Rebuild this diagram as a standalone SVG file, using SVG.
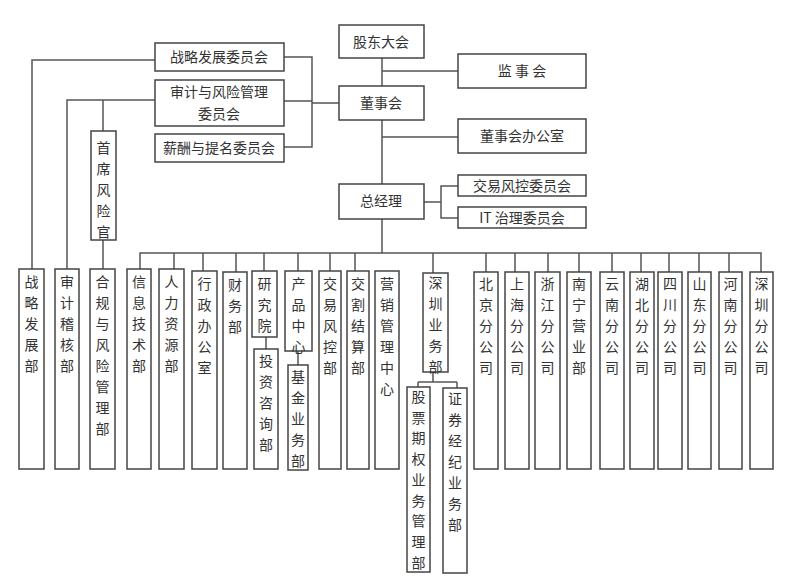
<svg xmlns="http://www.w3.org/2000/svg" width="793" height="585" viewBox="0 0 793 585">
<style>
rect{fill:#fff;stroke:#444;stroke-width:1.5}
.c path{fill:none;stroke:#555;stroke-width:1.5}
text{font-family:"Noto Sans CJK SC","Noto Sans CJK JP",sans-serif;font-size:14px;fill:#333}
.h{text-anchor:middle}
.v{text-anchor:middle}
</style>
<rect width="793" height="585" style="stroke:none"/>
<g class="c">
<path d="M382 58V253M382 71H458M382 137H458M424 202H441M458 186H441V218H458"/>
<path d="M284 57H312V147H284M284 101H312M312 103H339"/>
<path d="M155 60H32V269M155 100H67V269M103 100V131M103 240V269"/>
<path d="M140 269V253H761V272M174 253V269M203 253V271M236 253V272M264 253V271M298 253V271M330 253V271M355 253V271M433 253V273M486 253V272M515 253V272M548 253V272M579 253V272M612 253V272M641 253V272M669 253V272M699 253V272M729 253V272"/>
<path d="M266 337V349M298 351V365M433 372V382M418 382H457M418 382V387M457 382V388"/>
</g>
<g id="gddh"><rect x="339" y="25" width="85" height="33"/><text class="h" x="381" y="47">股东大会</text></g>
<g id="jsh"><rect x="458" y="54" width="128" height="34"/><text class="h" x="522" y="76">监 事 会</text></g>
<g id="dsh"><rect x="339" y="86" width="85" height="34"/><text class="h" x="381" y="108">董事会</text></g>
<g id="dshbgs"><rect x="458" y="119" width="128" height="34"/><text class="h" x="522" y="141">董事会办公室</text></g>
<g id="zjl"><rect x="339" y="184" width="85" height="35"/><text class="h" x="381" y="206">总经理</text></g>
<g id="jyfk"><rect x="458" y="175" width="128" height="21"/><text class="h" x="522" y="191">交易风控委员会</text></g>
<g id="it"><rect x="458" y="207" width="128" height="21"/><text class="h" x="522" y="223">IT 治理委员会</text></g>
<g id="zlfzwyh"><rect x="155" y="43" width="129" height="28"/><text class="h" x="219" y="62">战略发展委员会</text></g>
<g id="sjwyh"><rect x="155" y="80" width="129" height="46"/><text class="h" x="219" y="97">审计与风险管理</text><text class="h" x="219" y="119">委员会</text></g>
<g id="xcwyh"><rect x="155" y="134" width="129" height="28"/><text class="h" x="219" y="153">薪酬与提名委员会</text></g>
<g id="sxfxg"><rect x="91" y="131" width="25" height="109"/><text class="v" x="103.5" y="153"><tspan x="103.5">首</tspan><tspan x="103.5" dy="21">席</tspan><tspan x="103.5" dy="21">风</tspan><tspan x="103.5" dy="21">险</tspan><tspan x="103.5" dy="21">官</tspan></text></g>
<g id="d1"><rect x="19" y="269" width="25" height="200"/><text class="v" x="31.5" y="287"><tspan x="31.5">战</tspan><tspan x="31.5" dy="21">略</tspan><tspan x="31.5" dy="21">发</tspan><tspan x="31.5" dy="21">展</tspan><tspan x="31.5" dy="21">部</tspan></text></g>
<g id="d2"><rect x="55" y="269" width="24" height="200"/><text class="v" x="67" y="287"><tspan x="67">审</tspan><tspan x="67" dy="21">计</tspan><tspan x="67" dy="21">稽</tspan><tspan x="67" dy="21">核</tspan><tspan x="67" dy="21">部</tspan></text></g>
<g id="d3"><rect x="90" y="269" width="25" height="200"/><text class="v" x="102.5" y="287"><tspan x="102.5">合</tspan><tspan x="102.5" dy="21">规</tspan><tspan x="102.5" dy="21">与</tspan><tspan x="102.5" dy="21">风</tspan><tspan x="102.5" dy="21">险</tspan><tspan x="102.5" dy="21">管</tspan><tspan x="102.5" dy="21">理</tspan><tspan x="102.5" dy="21">部</tspan></text></g>
<g id="d4"><rect x="127" y="269" width="24" height="200"/><text class="v" x="139" y="287"><tspan x="139">信</tspan><tspan x="139" dy="21">息</tspan><tspan x="139" dy="21">技</tspan><tspan x="139" dy="21">术</tspan><tspan x="139" dy="21">部</tspan></text></g>
<g id="d5"><rect x="159" y="269" width="25" height="200"/><text class="v" x="171.5" y="287"><tspan x="171.5">人</tspan><tspan x="171.5" dy="21">力</tspan><tspan x="171.5" dy="21">资</tspan><tspan x="171.5" dy="21">源</tspan><tspan x="171.5" dy="21">部</tspan></text></g>
<g id="d6"><rect x="192" y="271" width="25" height="198"/><text class="v" x="204.5" y="289"><tspan x="204.5">行</tspan><tspan x="204.5" dy="21">政</tspan><tspan x="204.5" dy="21">办</tspan><tspan x="204.5" dy="21">公</tspan><tspan x="204.5" dy="21">室</tspan></text></g>
<g id="d7"><rect x="223" y="272" width="24" height="197"/><text class="v" x="235" y="290"><tspan x="235">财</tspan><tspan x="235" dy="21">务</tspan><tspan x="235" dy="21">部</tspan></text></g>
<g id="d8"><rect x="252" y="271" width="25" height="66"/><text class="v" x="264.5" y="289"><tspan x="264.5">研</tspan><tspan x="264.5" dy="21">究</tspan><tspan x="264.5" dy="21">院</tspan></text></g>
<g id="d8a"><rect x="254" y="349" width="24" height="120"/><text class="v" x="266" y="366"><tspan x="266">投</tspan><tspan x="266" dy="21">资</tspan><tspan x="266" dy="21">咨</tspan><tspan x="266" dy="21">询</tspan><tspan x="266" dy="21">部</tspan></text></g>
<g id="d9"><rect x="285" y="271" width="27" height="80"/><text class="v" x="298.5" y="289"><tspan x="298.5">产</tspan><tspan x="298.5" dy="21">品</tspan><tspan x="298.5" dy="21">中</tspan><tspan x="298.5" dy="21">心</tspan></text></g>
<g id="d9a"><rect x="288" y="365" width="20" height="105"/><text class="v" x="298" y="382"><tspan x="298">基</tspan><tspan x="298" dy="21">金</tspan><tspan x="298" dy="21">业</tspan><tspan x="298" dy="21">务</tspan><tspan x="298" dy="21">部</tspan></text></g>
<g id="d10"><rect x="319" y="271" width="22" height="198"/><text class="v" x="330" y="289"><tspan x="330">交</tspan><tspan x="330" dy="21">易</tspan><tspan x="330" dy="21">风</tspan><tspan x="330" dy="21">控</tspan><tspan x="330" dy="21">部</tspan></text></g>
<g id="d11"><rect x="347" y="271" width="22" height="198"/><text class="v" x="358" y="289"><tspan x="358">交</tspan><tspan x="358" dy="21">割</tspan><tspan x="358" dy="21">结</tspan><tspan x="358" dy="21">算</tspan><tspan x="358" dy="21">部</tspan></text></g>
<g id="d12"><rect x="375" y="271" width="24" height="198"/><text class="v" x="387" y="289"><tspan x="387">营</tspan><tspan x="387" dy="21">销</tspan><tspan x="387" dy="21">管</tspan><tspan x="387" dy="21">理</tspan><tspan x="387" dy="21">中</tspan><tspan x="387" dy="21">心</tspan></text></g>
<g id="d13"><rect x="423" y="273" width="25" height="99"/><text class="v" x="435.5" y="288"><tspan x="435.5">深</tspan><tspan x="435.5" dy="21">圳</tspan><tspan x="435.5" dy="21">业</tspan><tspan x="435.5" dy="21">务</tspan><tspan x="435.5" dy="21">部</tspan></text></g>
<g id="d13a"><rect x="407" y="387" width="23" height="185"/><text class="v" x="418.5" y="402"><tspan x="418.5">股</tspan><tspan x="418.5" dy="20.7">票</tspan><tspan x="418.5" dy="20.7">期</tspan><tspan x="418.5" dy="20.7">权</tspan><tspan x="418.5" dy="20.7">业</tspan><tspan x="418.5" dy="20.7">务</tspan><tspan x="418.5" dy="20.7">管</tspan><tspan x="418.5" dy="20.7">理</tspan><tspan x="418.5" dy="20.7">部</tspan></text></g>
<g id="d13b"><rect x="443" y="388" width="24" height="185"/><text class="v" x="455" y="404"><tspan x="455">证</tspan><tspan x="455" dy="21">券</tspan><tspan x="455" dy="21">经</tspan><tspan x="455" dy="21">纪</tspan><tspan x="455" dy="21">业</tspan><tspan x="455" dy="21">务</tspan><tspan x="455" dy="21">部</tspan></text></g>
<g id="b1"><rect x="474" y="272" width="24" height="197"/><text class="v" x="486" y="289"><tspan x="486">北</tspan><tspan x="486" dy="21">京</tspan><tspan x="486" dy="21">分</tspan><tspan x="486" dy="21">公</tspan><tspan x="486" dy="21">司</tspan></text></g>
<g id="b2"><rect x="505" y="272" width="24" height="197"/><text class="v" x="517" y="289"><tspan x="517">上</tspan><tspan x="517" dy="21">海</tspan><tspan x="517" dy="21">分</tspan><tspan x="517" dy="21">公</tspan><tspan x="517" dy="21">司</tspan></text></g>
<g id="b3"><rect x="535" y="272" width="25" height="197"/><text class="v" x="547.5" y="289"><tspan x="547.5">浙</tspan><tspan x="547.5" dy="21">江</tspan><tspan x="547.5" dy="21">分</tspan><tspan x="547.5" dy="21">公</tspan><tspan x="547.5" dy="21">司</tspan></text></g>
<g id="b4"><rect x="567" y="272" width="24" height="197"/><text class="v" x="579" y="289"><tspan x="579">南</tspan><tspan x="579" dy="21">宁</tspan><tspan x="579" dy="21">营</tspan><tspan x="579" dy="21">业</tspan><tspan x="579" dy="21">部</tspan></text></g>
<g id="b5"><rect x="600" y="272" width="24" height="197"/><text class="v" x="612" y="289"><tspan x="612">云</tspan><tspan x="612" dy="21">南</tspan><tspan x="612" dy="21">分</tspan><tspan x="612" dy="21">公</tspan><tspan x="612" dy="21">司</tspan></text></g>
<g id="b6"><rect x="630" y="272" width="24" height="197"/><text class="v" x="642" y="289"><tspan x="642">湖</tspan><tspan x="642" dy="21">北</tspan><tspan x="642" dy="21">分</tspan><tspan x="642" dy="21">公</tspan><tspan x="642" dy="21">司</tspan></text></g>
<g id="b7"><rect x="658" y="272" width="24" height="197"/><text class="v" x="670" y="289"><tspan x="670">四</tspan><tspan x="670" dy="21">川</tspan><tspan x="670" dy="21">分</tspan><tspan x="670" dy="21">公</tspan><tspan x="670" dy="21">司</tspan></text></g>
<g id="b8"><rect x="688" y="272" width="23" height="197"/><text class="v" x="699.5" y="289"><tspan x="699.5">山</tspan><tspan x="699.5" dy="21">东</tspan><tspan x="699.5" dy="21">分</tspan><tspan x="699.5" dy="21">公</tspan><tspan x="699.5" dy="21">司</tspan></text></g>
<g id="b9"><rect x="719" y="272" width="23" height="197"/><text class="v" x="730.5" y="289"><tspan x="730.5">河</tspan><tspan x="730.5" dy="21">南</tspan><tspan x="730.5" dy="21">分</tspan><tspan x="730.5" dy="21">公</tspan><tspan x="730.5" dy="21">司</tspan></text></g>
<g id="b10"><rect x="750" y="272" width="23" height="197"/><text class="v" x="761.5" y="289"><tspan x="761.5">深</tspan><tspan x="761.5" dy="21">圳</tspan><tspan x="761.5" dy="21">分</tspan><tspan x="761.5" dy="21">公</tspan><tspan x="761.5" dy="21">司</tspan></text></g>
</svg>
